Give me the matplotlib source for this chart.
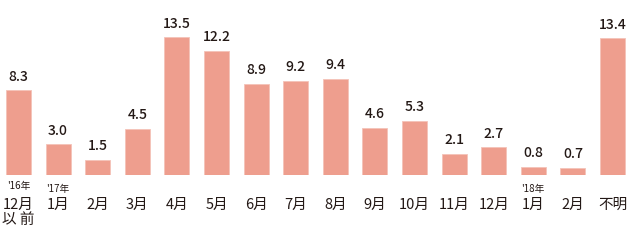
import matplotlib

matplotlib.use("Agg")
import matplotlib.pyplot as plt

plt.rcParams["font.family"] = ["Noto Sans CJK JP", "DejaVu Sans"]

months = ["12月\n以 前", "1月", "2月", "3月", "4月", "5月", "6月", "7月", "8月",
          "9月", "10月", "11月", "12月", "1月", "2月", "不明"]
values = [8.3, 3.0, 1.5, 4.5, 13.5, 12.2, 8.9, 9.2, 9.4, 4.6, 5.3, 2.1, 2.7, 0.8, 0.7, 13.4]
year_marks = {0: "'16年", 1: "'17年", 13: "'18年"}

BAR = "#ee9e8e"
INK = "#231815"
W, H = 633, 246
PITCH = 39.6
X0 = 18.5
BASE = 175  # baseline, pixels from top
PX_PER_UNIT = 10.2

fig = plt.figure(figsize=(W / 100, H / 100), dpi=100)
ax = fig.add_axes([0, (H - BASE) / H, 1, BASE / H])
ax.set_xlim(-X0 / PITCH, (W - X0) / PITCH)
ax.set_ylim(0, BASE / PX_PER_UNIT)
ax.axis("off")

xs = list(range(len(values)))
ax.bar(xs, values, width=25 / PITCH, color=BAR, edgecolor="#f4c3b8", linewidth=0.6)

for x, v in zip(xs, values):
    ax.annotate(f"{v:.1f}", (x, v), xytext=(0, 7), textcoords="offset points",
                ha="center", va="baseline", fontsize=10, color=INK, weight="medium")


def ypx(p):
    # pixel row from top -> data y
    return (BASE - p) / PX_PER_UNIT


for x, lab in enumerate(months):
    ax.text(x, ypx(198), lab, ha="center", va="top", fontsize=10.5, color=INK,
            linespacing=1.1, clip_on=False)

for x, lab in year_marks.items():
    yp = 186 if x == 0 else 189
    ax.text(x, ypx(yp), lab, ha="center", va="center", fontsize=7, color=INK,
            clip_on=False)

fig.savefig("out.png", dpi=100)
